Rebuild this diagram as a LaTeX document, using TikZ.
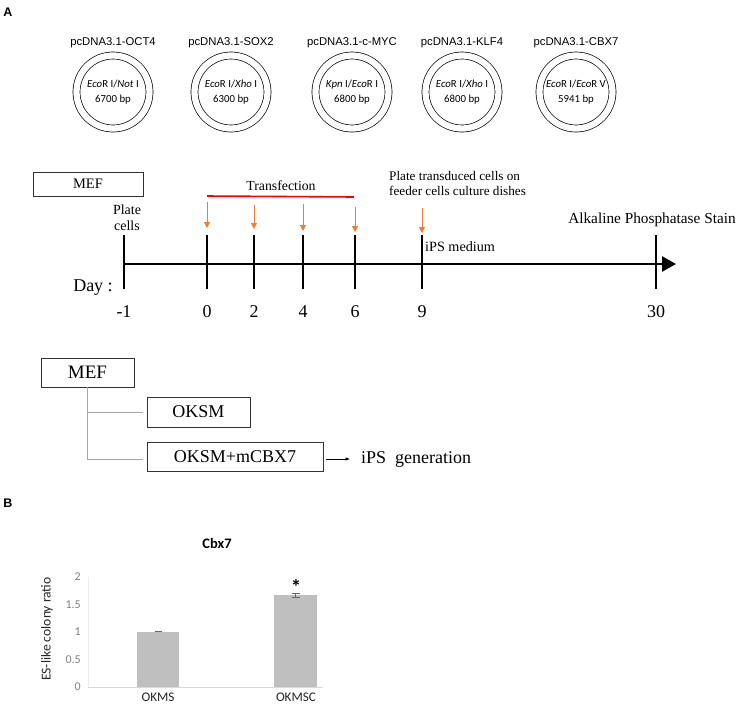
\documentclass[tikz,border=0pt]{standalone}
\usepackage{fontspec}
\setmainfont{Liberation Serif}
\newfontfamily\arialfont{Liberation Sans}
\newfontfamily\calibrifont{Carlito}
\usetikzlibrary{arrows,arrows.meta}
\usetikzlibrary{calc}
\usetikzlibrary{positioning}
\tikzset{>=latex}
\definecolor{arrowcol}{RGB}{237,125,49}
\colorlet{barcol}{gray!50}
\colorlet{treecol}{gray!70}
\tikzset{
  panel/.style={font=\arialfont\bfseries\fontsize{12.5}{14}\selectfont},
  plasmid/.style={circle,draw,double,double distance=6.3pt,line width=0.7pt,
                  minimum size=73pt,inner sep=0pt,align=center,
                  font=\calibrifont\fontsize{10.8}{14.5}\selectfont},
  ptitle/.style={font=\arialfont\fontsize{11.3}{13}\selectfont,inner sep=1pt},
  tmr/.style={font=\fontsize{#1}{1.2\dimexpr#1pt\relax}\selectfont,inner sep=1pt},
  tmr/.default=14,
  box/.style={draw=black!80,line width=0.7pt,minimum height=#1,inner sep=0pt},
  box/.default=24pt,
  tick/.style={line width=2.6pt},
  feed/.style={arrowcol,line width=0.8pt,-{Triangle[length=6pt,width=6pt]}},
  treeline/.style={treecol,line width=0.6pt},
  cal/.style={font=\calibrifont\fontsize{#1}{1.2\dimexpr#1pt\relax}\selectfont,inner sep=1pt},
  cal/.default=13.5
}

\begin{document}
\begin{tikzpicture}[x=1pt,y=-1pt]
  \useasboundingbox (0,0) rectangle (745,705);
  \def\yz{687}  % zero line of the chart
  \def\yu{55}   % one unit of ratio

  % A : PLASMIDS
  \node[panel] (A) at (8,12) {A};
  \foreach \x/\gene/\cut/\bp [count=\i] in {
      113/OCT4/{\textit{Eco}R I/\textit{Not} I}/6700 bp,
      231/SOX2/{\textit{Eco}R I/\textit{Xho} I}/6300 bp,
      352/c-MYC/{\textit{Kpn} I/\textit{Eco}R I}/6800 bp,
      462/KLF4/{\textit{Eco}R I/\textit{Xho} I}/6800 bp,
      576/CBX7/{\textit{Eco}R I/\textit{Eco}R V}/5941 bp}{
    \node[plasmid] (pl\i) at (\x,92) {\cut\\\bp};
    \node[ptitle,above=6pt of pl\i] (t\i) {pcDNA3.1-\gene};
  }

  % TIMELINE
  \node[box=24pt,minimum width=110pt,tmr=14.5] (mef) at (88,184) {MEF};
  \coordinate (ax0) at (124,264);
  \coordinate (ax1) at (676,264);
  \draw[line width=2.8pt,-{Triangle[length=14pt,width=15pt]}] (ax0) -- (ax1);
  \foreach \d/\x in {-1/124,0/207,2/254,4/303,6/355,9/422,30/656}{
    \draw[tick] (\x,235) -- (\x,289);
    \node[tmr=18] (d\x) at (\x,312) {\d};
  }
  \node[tmr=18] (day) at (93,288) {Day :};
  \node[tmr=14,align=center] (plate) at (127,218) {Plate\\[-1pt]cells};

  % transfection
  \draw[red,line width=1.6pt] (207,196) -- (354,197);
  \node[tmr=13.8] (trans) at (281,186) {Transfection};
  \foreach \x/\top/\bot in {207/202/228,254/205/229,303/204/231,355/207/232,422/208/233}{
    \coordinate (f\x) at (\x,\top);
    \coordinate (g\x) at (\x,\bot);
    \draw[feed] (f\x) -- (g\x);
  }
  \node[tmr=13.2,align=left,anchor=west] (feeder) at (388,183.5)
    {Plate transduced cells on\\[-0.5pt]feeder cells culture dishes};
  \node[tmr=14.2,anchor=west] (ips) at (424,247) {iPS medium};
  \node[tmr=15.3] (ap) at (652,220) {Alkaline Phosphatase Stain};

  % GROUPS
  \node[box=29pt,minimum width=93pt,tmr=19] (mef2) at (87.5,372.5) {MEF};
  \node[box=30pt,minimum width=103pt,tmr=18] (oksm) at (198.5,412) {OKSM};
  \node[box=29pt,minimum width=176pt,tmr=18] (oksmc) at (235,457) {OKSM+mCBX7};
  \node[tmr=18,anchor=west,inner sep=4pt] (gen) at (357,459) {iPS~ generation};
  \draw[treeline] (mef2.south) |- ([xshift=-4pt]oksm.west);
  \draw[treeline] (mef2.south) |- ([xshift=-4pt,yshift=-2pt]oksmc.west);
  \draw[line width=0.6pt,-{Latex[length=4.5pt,width=3.5pt]},shorten >=7pt]
    ([xshift=3pt,yshift=-2pt]oksmc.east) -- (gen.west);

  % B : CHART
  \node[panel] (B) at (8,503) {B};
  \node[cal=14.5,font=\calibrifont\bfseries\fontsize{14.5}{17}\selectfont] (title) at (217,543) {Cbx7};
  \draw[gray!15,line width=0.6pt] (88,{\yz-2*\yu}) -- (88,\yz);
  \foreach \v in {0,0.5,1,1.5,2}{
    \node[cal=12,text=gray,anchor=east] (y\v) at (82,{\yz-\v*\yu}) {\v};
  }
  \node[cal=13.6,text=black!85,rotate=90] (ylab) at (47,629) {ES-like colony ratio};
  \draw[gray!30,line width=1pt] (88,\yz) -- (323,\yz);
  \fill[barcol] (137,\yz) rectangle (179,{\yz-1.0*\yu});
  \fill[barcol] (274,\yz) rectangle (317,{\yz-1.67*\yu});
  \draw[black!60,line width=0.6pt] (154.5,{\yz-1.005*\yu}) -- (161.5,{\yz-1.005*\yu});
  \draw[black!60,line width=0.6pt] (295.5,{\yz-1.63*\yu}) -- (295.5,{\yz-1.71*\yu})
    (291.5,{\yz-1.63*\yu}) -- (299.5,{\yz-1.63*\yu})
    (291.5,{\yz-1.71*\yu}) -- (299.5,{\yz-1.71*\yu});
  \node[font=\calibrifont\bfseries\fontsize{21}{22}\selectfont,inner sep=0pt] (star) at (296,587) {*};
  \node[cal=13.2,text=black!85,inner sep=0pt] (c1) at (158,697) {OKMS};
  \node[cal=13.2,text=black!85,inner sep=0pt] (c2) at (296,697) {OKMSC};
\end{tikzpicture}
\end{document}
